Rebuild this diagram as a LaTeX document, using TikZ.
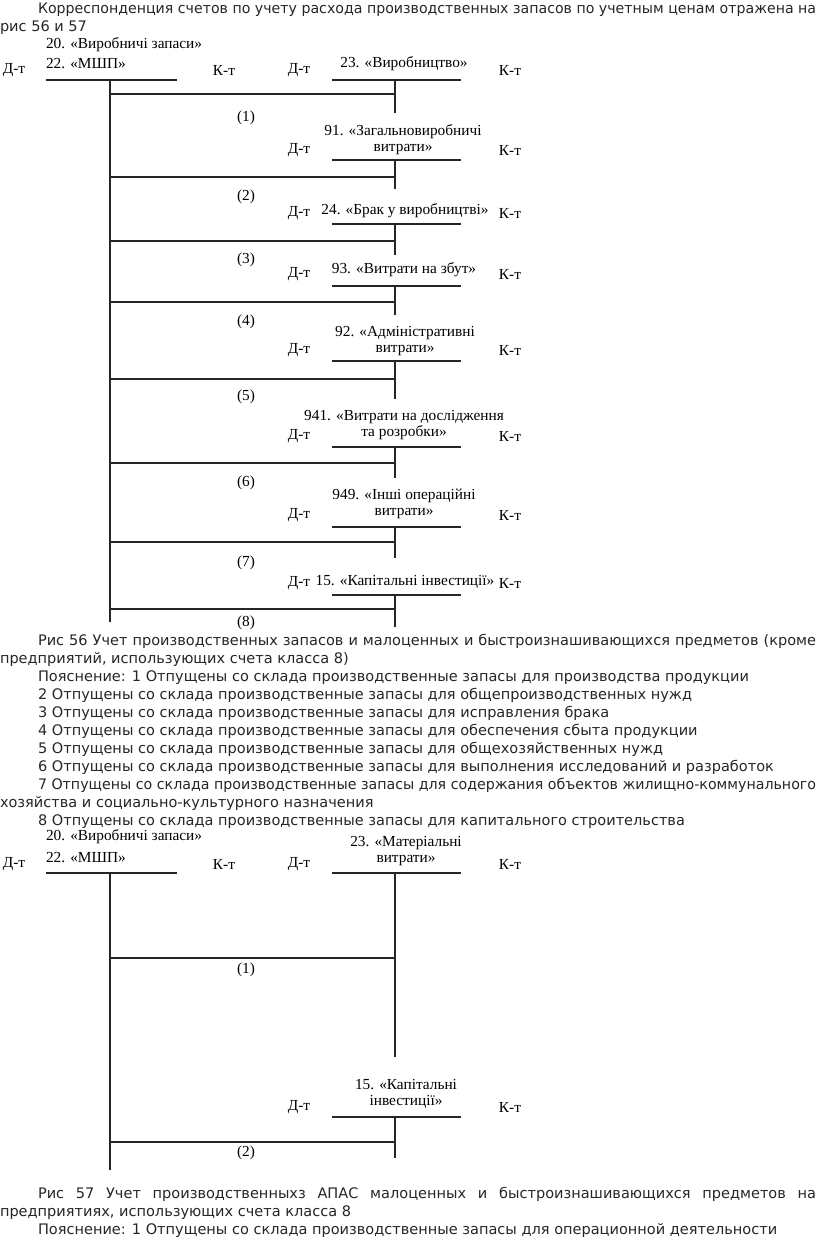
\documentclass[tikz,border=0pt]{standalone}
\usepackage{fontspec}
\usepackage{graphicx}
\setmainfont{Liberation Serif}
\newfontfamily\bodyfont{DejaVu Sans}
\usetikzlibrary{positioning}

\tikzset{
  body/.style={font=\bodyfont\fontsize{10.9pt}{13.5pt}\selectfont, anchor=base west, text=black!85},
  acct/.style={font=\fontsize{11.5pt}{12pt}\selectfont, align=center},
  side/.style={font=\fontsize{11.5pt}{12pt}\selectfont},
  tline/.style={line width=1.3pt, draw=black!85},
}
% a full justified line: spaces stretched, or squeezed when too long
\newsavebox\linebox
\newcommand{\justline}[1]{\sbox\linebox{#1}%
  \ifdim\wd\linebox>583.5pt\resizebox{583.5pt}{\height}{\usebox\linebox}%
  \else\makebox[583.5pt][s]{#1}\fi}

\begin{document}
\begin{tikzpicture}[x=0.75pt,y=-0.75pt,every node/.style={inner sep=0pt,outer sep=0pt}]
\useasboundingbox (0,0) rectangle (816,1238);

% TEXT ABOVE: reference to both figures
\node[body] (p1) at (38,14) {\justline{Корреспонденция счетов по учету расхода производственных запасов по учетным ценам отражена на}};
\node[body] (p2) at (0,32) {рис 56 и 57};

% FIG 56, HEADER: credited stock account and account 23
\node[acct, anchor=west] (s20) at (46,45) {20. «Виробничі запаси»};
\node[acct, anchor=west] (s22) at (46,64) {22. «МШП»};
\node[side] (sd) at (14,70) {Д-т};
\node[side] (sk) at (224,70) {К-т};
\node[side] (d0) at (299,70) {Д-т};
\node[acct] (a0) at (404,64) {23. «Виробництво»};
\node[side] (k0) at (510,70) {К-т};
\coordinate (s) at (110,80);
\coordinate (s-end) at (110,622);
\draw[tline] (46,80) -- (177,80);
\draw[tline] (s) -- (s-end);

% FIG 56, ACCOUNT 23 (entry 1)
\coordinate (r0) at (395,80);
\coordinate (e0) at (395,94);
\draw[tline] (332,80) -- (461,80);
\draw[tline] (r0) -- (395,113);
\draw[tline] (s |- e0) -- (e0);
\node[side] (n1) at (246,118) {(1)};

% FIG 56, ACCOUNT 91 (entry 2)
\node[acct] (a1) at (403,140) {91. «Загальновиробничі\\витрати»};
\node[side] (d1) at (299,150) {Д-т};
\node[side] (k1) at (510,150) {К-т};
\coordinate (r1) at (395,160);
\coordinate (e1) at (395,177);
\draw[tline] (332,160) -- (461,160);
\draw[tline] (r1) -- (395,189);
\draw[tline] (s |- e1) -- (e1);
\node[side] (n2) at (246,197) {(2)};

% FIG 56, ACCOUNT 24 (entry 3)
\node[acct] (a2) at (405,211) {24. «Брак у виробництві»};
\node[side] (d2) at (299,213) {Д-т};
\node[side] (k2) at (510,213) {К-т};
\coordinate (r2) at (395,224);
\coordinate (e2) at (395,241);
\draw[tline] (332,224) -- (461,224);
\draw[tline] (r2) -- (395,255);
\draw[tline] (s |- e2) -- (e2);
\node[side] (n3) at (246,260) {(3)};

% FIG 56, ACCOUNT 93 (entry 4)
\node[acct] (a3) at (404,270) {93. «Витрати на збут»};
\node[side] (d3) at (299,274) {Д-т};
\node[side] (k3) at (510,274) {К-т};
\coordinate (r3) at (395,286);
\coordinate (e3) at (395,302);
\draw[tline] (332,286) -- (461,286);
\draw[tline] (r3) -- (395,315);
\draw[tline] (s |- e3) -- (e3);
\node[side] (n4) at (246,322) {(4)};

% FIG 56, ACCOUNT 92 (entry 5)
\node[acct] (a4) at (405,341) {92. «Адміністративні\\витрати»};
\node[side] (d4) at (299,350) {Д-т};
\node[side] (k4) at (510,350) {К-т};
\coordinate (r4) at (395,361);
\coordinate (e4) at (395,379);
\draw[tline] (332,361) -- (461,361);
\draw[tline] (r4) -- (395,399);
\draw[tline] (s |- e4) -- (e4);
\node[side] (n5) at (246,397) {(5)};

% FIG 56, ACCOUNT 941 (entry 6)
\node[acct] (a5) at (404,425) {941. «Витрати на дослідження\\та розробки»};
\node[side] (d5) at (299,436) {Д-т};
\node[side] (k5) at (510,436) {К-т};
\coordinate (r5) at (395,447);
\coordinate (e5) at (395,463);
\draw[tline] (332,447) -- (461,447);
\draw[tline] (r5) -- (395,478);
\draw[tline] (s |- e5) -- (e5);
\node[side] (n6) at (246,483) {(6)};

% FIG 56, ACCOUNT 949 (entry 7)
\node[acct] (a6) at (404,504) {949. «Інші операційні\\витрати»};
\node[side] (d6) at (299,515) {Д-т};
\node[side] (k6) at (510,515) {К-т};
\coordinate (r6) at (395,527);
\coordinate (e6) at (395,542);
\draw[tline] (332,527) -- (461,527);
\draw[tline] (r6) -- (395,558);
\draw[tline] (s |- e6) -- (e6);
\node[side] (n7) at (246,563) {(7)};

% FIG 56, ACCOUNT 15 (entry 8)
\node[acct] (a7) at (405,582) {15. «Капітальні інвестиції»};
\node[side] (d7) at (299,583) {Д-т};
\node[side] (k7) at (510,583) {К-т};
\coordinate (r7) at (395,595);
\coordinate (e7) at (395,609);
\draw[tline] (332,595) -- (461,595);
\draw[tline] (r7) -- (395,627);
\draw[tline] (s |- e7) -- (e7);
\node[side] (n8) at (246,623) {(8)};

% CAPTION 56 and its notes
\node[body] (c1) at (38,645) {\justline{Рис 56 Учет производственных запасов и малоценных и быстроизнашивающихся предметов (кроме}};
\node[body] (c2) at (0,663) {предприятий, использующих счета класса 8)};
\node[body] (c3) at (38,681) {Пояснение: 1 Отпущены со склада производственные запасы для производства продукции};
\node[body] (c4) at (38,699) {2 Отпущены со склада производственные запасы для общепроизводственных нужд};
\node[body] (c5) at (38,717) {3 Отпущены со склада производственные запасы для исправления брака};
\node[body] (c6) at (38,735) {4 Отпущены со склада производственные запасы для обеспечения сбыта продукции};
\node[body] (c7) at (38,753) {5 Отпущены со склада производственные запасы для общехозяйственных нужд};
\node[body] (c8) at (38,771) {6 Отпущены со склада производственные запасы для выполнения исследований и разработок};
\node[body] (c9) at (38,789) {\justline{7 Отпущены со склада производственные запасы для содержания объектов жилищно-коммунального}};
\node[body] (c10) at (0,807) {хозяйства и социально-культурного назначения};
\node[body] (c11) at (38,825) {8 Отпущены со склада производственные запасы для капитального строительства};

% FIG 57, HEADER: credited stock account and account 23
\node[acct, anchor=west] (t20) at (46,837) {20. «Виробничі запаси»};
\node[acct, anchor=west] (t22) at (46,858) {22. «МШП»};
\node[side] (td) at (14,864) {Д-т};
\node[side] (tk) at (224,864) {К-т};
\node[side] (m0d) at (299,864) {Д-т};
\node[acct] (m0) at (406,851) {23. «Матеріальні\\витрати»};
\node[side] (m0k) at (510,864) {К-т};
\coordinate (t) at (110,873);
\coordinate (t-end) at (110,1170);
\draw[tline] (46,873) -- (177,873);
\draw[tline] (t) -- (t-end);

% FIG 57, ACCOUNT 23 (entry 1)
\coordinate (q0) at (395,873);
\coordinate (f0) at (395,958);
\draw[tline] (332,873) -- (461,873);
\draw[tline] (q0) -- (395,1057);
\draw[tline] (t |- f0) -- (f0);
\node[side] (o1) at (246,970) {(1)};

% FIG 57, ACCOUNT 15 (entry 2)
\node[acct] (m1) at (406,1094) {15. «Капітальні\\інвестиції»};
\node[side] (m1d) at (299,1107) {Д-т};
\node[side] (m1k) at (510,1107) {К-т};
\coordinate (q1) at (395,1117);
\coordinate (f1) at (395,1142);
\draw[tline] (332,1117) -- (461,1117);
\draw[tline] (q1) -- (395,1158);
\draw[tline] (t |- f1) -- (f1);
\node[side] (o2) at (246,1153) {(2)};

% CAPTION 57 and its note
\node[body] (g1) at (38,1198) {\justline{Рис 57 Учет производственныхз АПАС малоценных и быстроизнашивающихся предметов на}};
\node[body] (g2) at (0,1216) {предприятиях, использующих счета класса 8};
\node[body] (g3) at (38,1234) {Пояснение: 1 Отпущены со склада производственные запасы для операционной деятельности};
\end{tikzpicture}
\end{document}
